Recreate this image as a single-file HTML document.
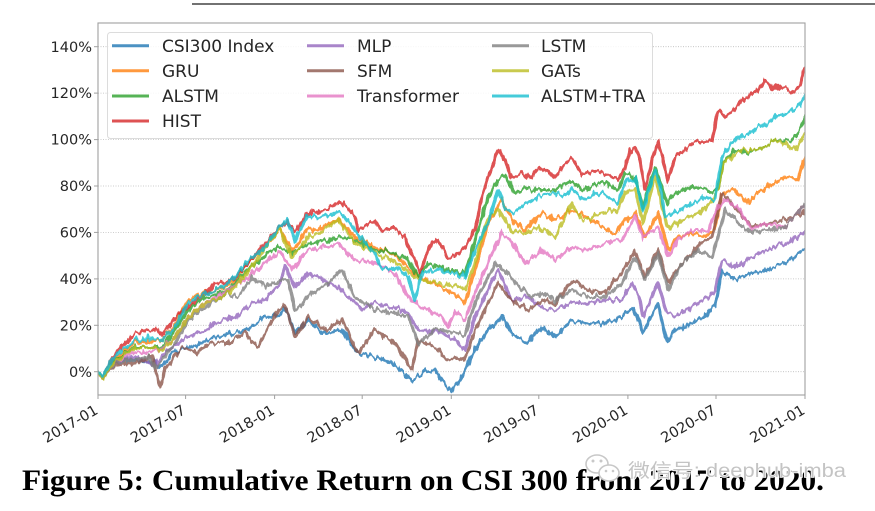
<!DOCTYPE html>
<html><head><meta charset="utf-8"><style>
html,body{margin:0;padding:0;background:#fff;}
svg{display:block;}
.s{fill:none;stroke-width:3.1;stroke-opacity:.8;stroke-linejoin:round;stroke-linecap:round;}
.tk{font-family:"DejaVu Sans","Liberation Sans",sans-serif;font-size:14.5px;fill:#262626;}
.lg{font-family:"DejaVu Sans","Liberation Sans",sans-serif;font-size:17px;fill:#262626;}
</style></head><body>
<svg width="875" height="511" viewBox="0 0 875 511" xmlns="http://www.w3.org/2000/svg">
<defs>
<clipPath id="ax"><rect x="98" y="23" width="707" height="372"/></clipPath>
<filter id="jit" x="90" y="15" width="725" height="390" filterUnits="userSpaceOnUse" color-interpolation-filters="sRGB">
<feTurbulence type="fractalNoise" baseFrequency="0.26 0.08" numOctaves="2" seed="7" result="n"/>
<feColorMatrix in="n" type="matrix" values="0 0 0 0 0.5  0 1 0 0 0  0 0 0 0 0.5  0 0 0 0 1" result="m"/>
<feDisplacementMap in="SourceGraphic" in2="m" scale="10" xChannelSelector="R" yChannelSelector="G"/>
</filter>
</defs>
<rect width="875" height="511" fill="#fff"/>
<line x1="192" y1="4" x2="875" y2="4" stroke="#444" stroke-width="1.5"/>
<g stroke="#bdbdbd" stroke-width="0.8" stroke-dasharray="1,1.5">
<line x1="98" x2="805" y1="371.7" y2="371.7"/>
<line x1="98" x2="805" y1="325.3" y2="325.3"/>
<line x1="98" x2="805" y1="278.9" y2="278.9"/>
<line x1="98" x2="805" y1="232.4" y2="232.4"/>
<line x1="98" x2="805" y1="186" y2="186"/>
<line x1="98" x2="805" y1="139.6" y2="139.6"/>
<line x1="98" x2="805" y1="93.1" y2="93.1"/>
<line x1="98" x2="805" y1="46.7" y2="46.7"/>
</g>
<g clip-path="url(#ax)">
<g filter="url(#jit)">
<polyline class="s" stroke="#1f77b4" points="98,372 103,378 110,366 120,362 135,360 155,363 162,368 172,353 188,347 202,343 215,337 235,333 248,330 265,317 280,315 285,307 295,333 308,320 322,333 342,330 358,353 375,357 392,363 412,380 425,372 435,370 445,385 452,390 460,380 465,370 475,350 488,330 502,317 512,333 525,343 542,327 555,337 572,320 588,323 605,323 622,317 632,307 640,323 643,333 658,303 667,343 675,330 692,323 708,313 715,307 722,270 735,280 752,273 768,270 785,263 803,250 805,250"/>
<polyline class="s" stroke="#ff7f0e" points="98,372 103,378 110,363 120,355 135,342 162,340 175,325 188,300 205,292 222,288 235,280 248,262 262,250 280,230 292,250 308,230 320,228 338,220 355,237 375,247 395,255 418,277 430,280 445,290 455,293 465,303 475,270 488,223 502,200 512,220 525,230 542,213 555,220 572,210 588,217 602,227 615,233 625,220 632,217 635,213 645,237 658,213 668,250 678,237 692,233 705,237 715,227 722,193 735,190 748,203 758,193 768,187 785,177 798,180 803,163 805,160"/>
<polyline class="s" stroke="#2ca02c" points="98,372 103,378 110,364 120,357 135,347 162,347 175,330 188,310 205,297 228,290 248,270 268,253 280,247 292,253 308,243 320,242 338,237 355,240 375,250 390,252 408,260 418,277 428,263 440,268 448,270 455,270 465,275 475,240 488,197 498,180 505,175 515,193 525,188 538,190 555,190 572,180 582,190 592,186 602,182 618,190 625,173 635,177 643,207 655,167 667,203 675,193 692,187 708,190 718,190 723,163 735,150 745,152 758,150 775,140 785,142 792,140 800,130 805,117"/>
<polyline class="s" stroke="#d62728" points="98,372 103,377 110,362 118,350 128,340 135,333 148,332 157,328 162,335 175,318 188,307 205,293 215,283 227,282 235,278 248,263 262,247 280,227 287,222 295,232 308,213 318,212 330,207 340,202 348,208 355,217 358,230 368,224 375,220 382,233 392,228 405,237 410,250 415,260 420,273 426,255 432,243 438,240 448,257 455,257 465,247 475,230 482,197 488,177 493,165 498,150 505,160 512,180 522,173 530,178 538,168 548,172 555,177 565,165 572,157 582,175 592,170 602,173 610,176 618,180 625,167 630,150 635,147 640,160 645,190 652,160 658,142 663,160 668,180 675,157 685,150 692,143 702,143 712,140 718,110 725,117 732,112 742,100 750,97 758,90 765,80 772,88 782,87 790,90 795,92 800,85 803,73 805,70"/>
<polyline class="s" stroke="#9467bd" points="98,372 103,378 110,366 120,362 135,357 155,365 165,353 178,343 188,337 205,330 215,323 235,317 252,303 265,300 280,283 285,267 295,287 308,273 325,280 342,290 362,310 375,303 395,308 408,313 418,330 442,333 455,340 465,350 475,317 488,290 498,270 512,300 528,297 542,307 555,310 572,303 588,303 605,300 622,300 632,283 640,300 643,317 658,283 667,313 675,317 692,307 708,297 715,290 722,260 735,267 752,257 768,250 785,243 803,233 805,230"/>
<polyline class="s" stroke="#8c564b" points="98,372 103,378 110,367 120,365 135,363 152,357 160,387 165,370 182,347 195,352 212,343 228,343 245,333 258,347 268,327 280,308 285,305 295,337 308,317 325,330 342,320 358,353 375,330 395,343 412,370 418,340 435,347 448,360 455,357 465,360 475,330 488,303 498,283 512,300 528,310 542,300 555,303 572,280 588,290 605,293 622,273 635,250 645,277 658,250 668,283 682,263 698,247 712,237 722,193 735,207 752,227 768,223 785,220 803,213 805,210"/>
<polyline class="s" stroke="#e377c2" points="98,372 103,378 110,366 120,360 135,352 148,353 162,348 175,337 188,317 205,303 228,290 248,277 268,260 280,252 292,270 308,250 320,248 338,243 355,260 375,263 395,273 408,297 422,307 442,317 448,327 455,312 465,320 475,293 488,263 502,233 512,243 525,263 542,250 555,260 572,247 588,250 605,243 622,240 632,223 635,217 643,237 658,227 668,257 678,240 692,230 708,230 718,207 725,200 738,207 752,230 765,223 785,227 803,207 805,205"/>
<polyline class="s" stroke="#7f7f7f" points="98,372 103,378 110,366 120,362 135,360 148,357 155,368 162,360 175,343 188,320 205,307 228,293 238,297 252,277 265,287 280,280 288,280 295,310 308,297 325,285 342,270 355,297 375,310 395,313 408,317 418,343 435,330 455,332 465,335 475,303 488,277 495,263 505,270 515,283 532,297 542,293 555,300 572,290 588,297 605,297 622,283 635,257 645,280 658,253 668,290 682,263 698,250 712,257 718,237 725,210 742,227 752,233 768,230 785,227 803,207 805,203"/>
<polyline class="s" stroke="#bcbd22" points="98,372 103,379 110,365 120,358 135,348 152,347 162,350 175,337 188,317 205,303 222,297 235,287 252,267 268,243 280,230 292,257 308,237 320,232 338,220 355,243 375,253 395,262 418,280 430,280 445,285 460,287 465,290 475,263 488,217 498,210 512,230 525,233 538,227 555,237 572,203 582,220 602,213 618,210 625,193 635,190 643,223 655,177 667,227 680,222 692,217 708,207 718,190 723,163 742,150 758,150 775,140 785,145 795,150 803,137 805,135"/>
<polyline class="s" stroke="#17becf" points="98,372 103,376 110,362 118,353 135,340 152,338 162,340 175,327 188,303 205,293 222,287 235,277 248,260 262,250 280,227 287,220 295,240 308,215 320,218 338,212 348,220 355,230 368,247 375,255 382,270 395,267 408,277 415,300 422,273 435,270 448,272 455,273 465,277 475,250 488,223 498,190 505,207 513,213 525,205 538,197 555,193 565,195 572,188 582,200 592,195 602,193 618,203 625,183 635,177 643,210 655,170 660,185 665,217 675,213 692,203 708,197 715,200 722,157 730,145 738,137 748,135 758,127 765,125 775,117 785,115 792,110 800,105 805,95"/>
</g>
</g>
<rect x="98" y="23" width="707" height="372" fill="none" stroke="#a0a0a0" stroke-width="1.1"/>
<g stroke="#a0a0a0" stroke-width="1">
<line x1="94" x2="98" y1="371.7" y2="371.7"/><line x1="94" x2="98" y1="325.3" y2="325.3"/>
<line x1="94" x2="98" y1="278.9" y2="278.9"/><line x1="94" x2="98" y1="232.4" y2="232.4"/>
<line x1="94" x2="98" y1="186" y2="186"/><line x1="94" x2="98" y1="139.6" y2="139.6"/>
<line x1="94" x2="98" y1="93.1" y2="93.1"/><line x1="94" x2="98" y1="46.7" y2="46.7"/>
<line x1="98" x2="98" y1="395" y2="399"/><line x1="185.6" x2="185.6" y1="395" y2="399"/>
<line x1="274.6" x2="274.6" y1="395" y2="399"/><line x1="362.2" x2="362.2" y1="395" y2="399"/>
<line x1="451.3" x2="451.3" y1="395" y2="399"/><line x1="538.8" x2="538.8" y1="395" y2="399"/>
<line x1="627.9" x2="627.9" y1="395" y2="399"/><line x1="716" x2="716" y1="395" y2="399"/>
<line x1="805" x2="805" y1="395" y2="399"/>
</g>
<g class="tk" text-anchor="end">
<text x="92" y="376.8">0%</text>
<text x="92" y="330.4">20%</text>
<text x="92" y="284">40%</text>
<text x="92" y="237.5">60%</text>
<text x="92" y="191.1">80%</text>
<text x="92" y="144.7">100%</text>
<text x="92" y="98.2">120%</text>
<text x="92" y="51.8">140%</text>
<text transform="translate(99,413) rotate(-30)">2017-01</text>
<text transform="translate(186.6,413) rotate(-30)">2017-07</text>
<text transform="translate(275.6,413) rotate(-30)">2018-01</text>
<text transform="translate(363.2,413) rotate(-30)">2018-07</text>
<text transform="translate(452.3,413) rotate(-30)">2019-01</text>
<text transform="translate(539.8,413) rotate(-30)">2019-07</text>
<text transform="translate(628.9,413) rotate(-30)">2020-01</text>
<text transform="translate(717,413) rotate(-30)">2020-07</text>
<text transform="translate(806,413) rotate(-30)">2021-01</text>
</g>
<rect x="107.5" y="32.5" width="545" height="106" rx="3" fill="#fff" fill-opacity="0.85" stroke="#dcdcdc" stroke-width="1"/>
<g stroke-width="3" stroke-opacity="0.8">
<line x1="112" x2="149" y1="45.7" y2="45.7" stroke="#1f77b4"/>
<line x1="112" x2="149" y1="70.7" y2="70.7" stroke="#ff7f0e"/>
<line x1="112" x2="149" y1="96" y2="96" stroke="#2ca02c"/>
<line x1="112" x2="149" y1="121" y2="121" stroke="#d62728"/>
<line x1="307" x2="344" y1="45.7" y2="45.7" stroke="#9467bd"/>
<line x1="307" x2="344" y1="70.7" y2="70.7" stroke="#8c564b"/>
<line x1="307" x2="344" y1="96" y2="96" stroke="#e377c2"/>
<line x1="492" x2="529" y1="45.7" y2="45.7" stroke="#7f7f7f"/>
<line x1="492" x2="529" y1="70.7" y2="70.7" stroke="#bcbd22"/>
<line x1="492" x2="529" y1="96" y2="96" stroke="#17becf"/>
</g>
<g class="lg">
<text x="162" y="51.8">CSI300 Index</text>
<text x="162" y="76.8">GRU</text>
<text x="162" y="102.1">ALSTM</text>
<text x="162" y="127.1">HIST</text>
<text x="357" y="51.8">MLP</text>
<text x="357" y="76.8">SFM</text>
<text x="357" y="102.1">Transformer</text>
<text x="541" y="51.8">LSTM</text>
<text x="541" y="76.8">GATs</text>
<text x="541" y="102.1">ALSTM+TRA</text>
</g>
<text x="22" y="490" font-family="'Liberation Serif',serif" font-weight="bold" font-size="30" fill="#000" textLength="802" lengthAdjust="spacingAndGlyphs">Figure 5: Cumulative Return on CSI 300 from 2017 to 2020.</text>
<g fill="#fff" stroke="#c8c8c8" stroke-width="1.6">
<ellipse cx="597" cy="464" rx="11" ry="9"/>
<ellipse cx="609" cy="473" rx="10" ry="8"/>
</g>
<g fill="#c8c8c8"><circle cx="593" cy="461" r="1.5"/><circle cx="601" cy="461" r="1.5"/><circle cx="606" cy="471" r="1.3"/><circle cx="613" cy="471" r="1.3"/></g>
<text x="628" y="477" font-family="'Liberation Sans','Noto Sans CJK SC',sans-serif" font-size="19" fill="#c4c4c4" stroke="#fff" stroke-width="1.5" paint-order="stroke" textLength="218" lengthAdjust="spacingAndGlyphs">微信号: deephub-imba</text>
</svg>
</body></html>
